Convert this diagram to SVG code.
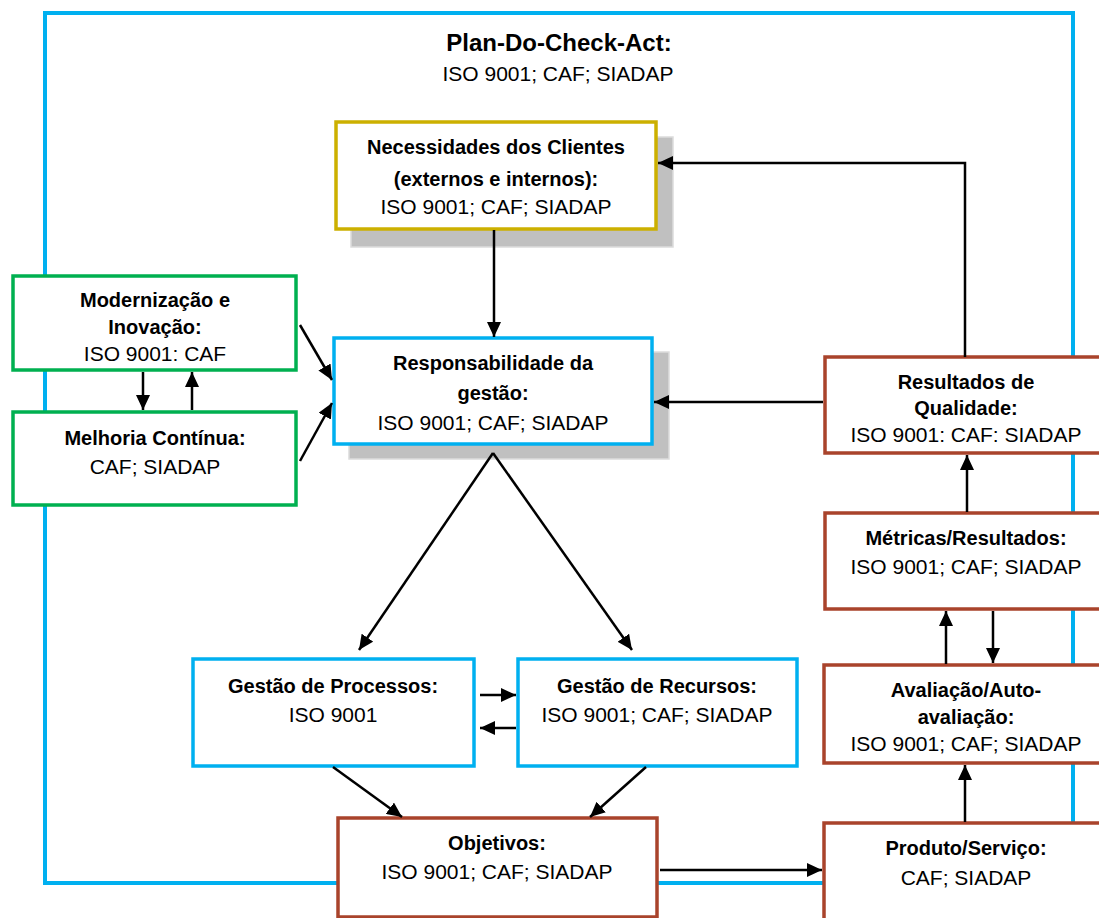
<svg xmlns="http://www.w3.org/2000/svg" width="1099" height="918" viewBox="0 0 1099 918">
  <defs>
    <marker id="arrow" markerUnits="userSpaceOnUse" markerWidth="16" markerHeight="14" refX="15" refY="7" orient="auto">
      <path d="M0,0 L15,7 L0,14 z" fill="#000"/>
    </marker>
    <style>
      text { font-family: "Liberation Sans", Arial, sans-serif; fill: #000; text-anchor: middle; }
      .t { font-weight: bold; font-size: 20px; }
      .r { font-size: 21px; }
      .title { font-weight: bold; font-size: 24px; }
      .box { fill: #fff; stroke-width: 3.5; }
      .blue { stroke: #00B0F0; }
      .green { stroke: #00B050; }
      .gold { stroke: #CCB000; }
      .brown { stroke: #A9432B; }
      .shadow { fill: #C0C0C0; stroke: #DCDCDC; stroke-width: 1.5; }
      .frame { fill: none; stroke: #00B0F0; stroke-width: 4; }
      .conn line, .conn polyline { stroke: #000; stroke-width: 2.5; fill: none; marker-end: url(#arrow); }
      .conn .plain { marker-end: none; }
    </style>
  </defs>

  <!-- outer PDCA frame -->
  <g id="frame">
    <rect class="frame" x="45" y="13" width="1028" height="870"/>
    <text class="title" x="559" y="51">Plan-Do-Check-Act:</text>
    <text class="r" x="558" y="81">ISO 9001; CAF; SIADAP</text>
  </g>

  <g id="necessidades">
    <rect class="shadow" x="351" y="137" width="322" height="110"/>
    <rect class="box gold" x="336" y="122" width="320" height="107"/>
    <text class="t" x="496" y="154">Necessidades dos Clientes</text>
    <text class="t" x="496" y="186">(externos e internos):</text>
    <text class="r" x="496" y="214">ISO 9001; CAF; SIADAP</text>
  </g>

  <g id="responsabilidade">
    <rect class="shadow" x="349" y="352" width="320" height="107"/>
    <rect class="box blue" x="334" y="338" width="318" height="106"/>
    <text class="t" x="493" y="370">Responsabilidade da</text>
    <text class="t" x="493" y="400">gestão:</text>
    <text class="r" x="493" y="430">ISO 9001; CAF; SIADAP</text>
  </g>

  <g id="modernizacao">
    <rect class="box green" x="13" y="276" width="283" height="94"/>
    <text class="t" x="155" y="307">Modernização e</text>
    <text class="t" x="155" y="334">Inovação:</text>
    <text class="r" x="155" y="361">ISO 9001: CAF</text>
  </g>

  <g id="melhoria">
    <rect class="box green" x="13" y="412" width="283" height="93"/>
    <text class="t" x="155" y="445">Melhoria Contínua:</text>
    <text class="r" x="155" y="474">CAF; SIADAP</text>
  </g>

  <g id="processos">
    <rect class="box blue" x="193" y="659" width="281" height="107"/>
    <text class="t" x="333" y="693">Gestão de Processos:</text>
    <text class="r" x="333" y="722">ISO 9001</text>
  </g>

  <g id="recursos">
    <rect class="box blue" x="518" y="659" width="279" height="107"/>
    <text class="t" x="657" y="693">Gestão de Recursos:</text>
    <text class="r" x="657" y="722">ISO 9001; CAF; SIADAP</text>
  </g>

  <g id="objetivos">
    <rect class="box brown" x="338" y="818" width="319" height="99"/>
    <text class="t" x="497" y="850">Objetivos:</text>
    <text class="r" x="497" y="879">ISO 9001; CAF; SIADAP</text>
  </g>

  <g id="resultados">
    <rect class="box brown" x="825" y="357" width="290" height="96"/>
    <text class="t" x="966" y="389">Resultados de</text>
    <text class="t" x="966" y="415">Qualidade:</text>
    <text class="r" x="966" y="442">ISO 9001: CAF: SIADAP</text>
  </g>

  <g id="metricas">
    <rect class="box brown" x="825" y="513" width="290" height="96"/>
    <text class="t" x="966" y="545">Métricas/Resultados:</text>
    <text class="r" x="966" y="574">ISO 9001; CAF; SIADAP</text>
  </g>

  <g id="avaliacao">
    <rect class="box brown" x="824" y="665" width="290" height="98"/>
    <text class="t" x="966" y="697">Avaliação/Auto-</text>
    <text class="t" x="966" y="724">avaliação:</text>
    <text class="r" x="966" y="751">ISO 9001; CAF; SIADAP</text>
  </g>

  <g id="produto">
    <rect class="box brown" x="824" y="823" width="290" height="100"/>
    <text class="t" x="966" y="855">Produto/Serviço:</text>
    <text class="r" x="966" y="885">CAF; SIADAP</text>
  </g>

  <g id="connectors" class="conn">
    <polyline points="965,357 965,163 658,163"/>
    <line x1="494" y1="230" x2="494" y2="337"/>
    <line x1="823" y1="402" x2="654" y2="402"/>
    <line x1="143" y1="372" x2="143" y2="410"/>
    <line x1="192" y1="410" x2="192" y2="372"/>
    <line x1="300" y1="325" x2="332" y2="380"/>
    <line x1="300" y1="461" x2="332" y2="403"/>
    <line x1="493" y1="453" x2="359" y2="650"/>
    <line x1="493" y1="453" x2="632" y2="650"/>
    <line x1="480" y1="695" x2="516" y2="695"/>
    <line x1="516" y1="728" x2="480" y2="728"/>
    <line x1="333" y1="767" x2="402" y2="817"/>
    <line x1="646" y1="767" x2="590" y2="817"/>
    <line x1="660" y1="870" x2="822" y2="870"/>
    <line x1="965" y1="822" x2="965" y2="765"/>
    <line x1="946" y1="664" x2="946" y2="611"/>
    <line x1="993" y1="611" x2="993" y2="663"/>
    <line x1="967" y1="512" x2="967" y2="455"/>
  </g>
</svg>
